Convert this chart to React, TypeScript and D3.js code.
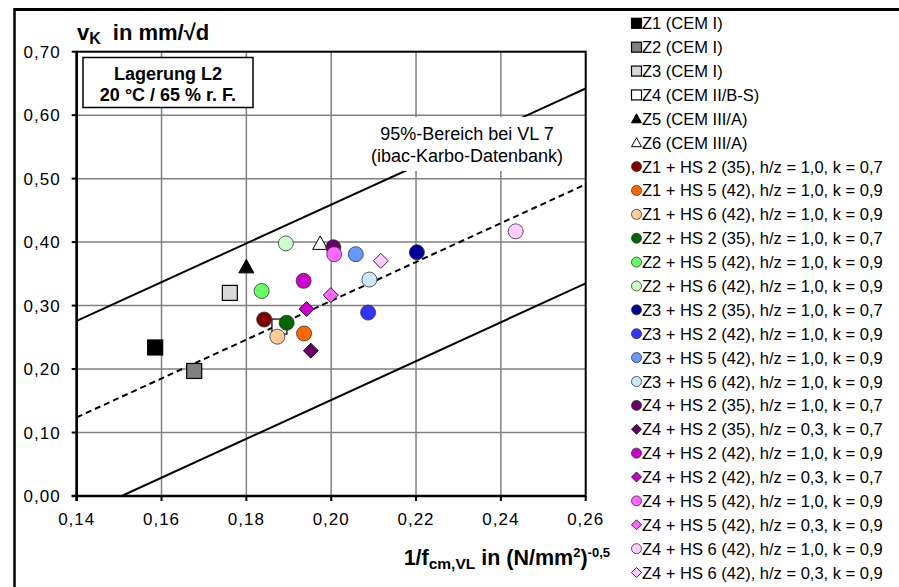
// Karbonatisierungsgeschwindigkeit vs. 1/fcm - scatter with 95% band
import React from 'react';
import * as d3 from 'd3';

// data
const seriesNames = [
    'Z1 (CEM I)', 'Z2 (CEM I)', 'Z3 (CEM I)', 'Z4 (CEM II/B-S)', 'Z5 (CEM III/A)', 'Z6 (CEM III/A)',
    'Z1 + HS 2 (35), h/z = 1,0, k = 0,7', 'Z1 + HS 5 (42), h/z = 1,0, k = 0,9', 'Z1 + HS 6 (42), h/z = 1,0, k = 0,9',
    'Z2 + HS 2 (35), h/z = 1,0, k = 0,7', 'Z2 + HS 5 (42), h/z = 1,0, k = 0,9', 'Z2 + HS 6 (42), h/z = 1,0, k = 0,9',
    'Z3 + HS 2 (35), h/z = 1,0, k = 0,7', 'Z3 + HS 2 (42), h/z = 1,0, k = 0,9', 'Z3 + HS 5 (42), h/z = 1,0, k = 0,9',
    'Z3 + HS 6 (42), h/z = 1,0, k = 0,9', 'Z4 + HS 2 (35), h/z = 1,0, k = 0,7', 'Z4 + HS 2 (35), h/z = 0,3, k = 0,7',
    'Z4 + HS 2 (42), h/z = 1,0, k = 0,9', 'Z4 + HS 2 (42), h/z = 0,3, k = 0,7', 'Z4 + HS 5 (42), h/z = 1,0, k = 0,9',
    'Z4 + HS 5 (42), h/z = 0,3, k = 0,9', 'Z4 + HS 6 (42), h/z = 1,0, k = 0,9', 'Z4 + HS 6 (42), h/z = 0,3, k = 0,9',
];
const seriesX = [
    0.1585, 0.1677, 0.1761, 0.1878, 0.18, 0.1974,
    0.1842, 0.1936, 0.1873, 0.1895, 0.1836, 0.1893,
    0.2202, 0.2087, 0.2058, 0.209, 0.2005, 0.1952,
    0.1935, 0.1942, 0.2007, 0.1999, 0.2435, 0.2117,
];
const seriesY = [
    0.234, 0.197, 0.320, 0.267, 0.361, 0.398,
    0.278, 0.256, 0.251, 0.273, 0.323, 0.398,
    0.384, 0.289, 0.381, 0.341, 0.392, 0.229,
    0.339, 0.2945, 0.381, 0.3165, 0.417, 0.3705,
];
const seriesShape = [
    'square', 'square', 'square', 'square', 'triangle', 'triangle',
    'circle', 'circle', 'circle', 'circle', 'circle', 'circle',
    'circle', 'circle', 'circle', 'circle', 'circle', 'diamond',
    'circle', 'diamond', 'circle', 'diamond', 'circle', 'diamond',
];
const seriesFill = [
    '#000000', '#808080', '#d9d9d9', '#ffffff', '#000000', '#ffffff',
    '#800000', '#ff6600', '#ffcc99', '#006600', '#66ff66', '#ccffcc',
    '#000099', '#3333ff', '#6699ff', '#cce8ff', '#660066', '#660066',
    '#cc00cc', '#cc00cc', '#ff66ff', '#ff66ff', '#ffccff', '#ffccff',
];
const xTicks = [0.14, 0.16, 0.18, 0.20, 0.22, 0.24, 0.26];
const yTicks = [0, 0.1, 0.2, 0.3, 0.4, 0.5, 0.6, 0.7];
// 95%-Bereich (ibac-Karbo-Datenbank)
const upperLine: [number, number][] = [[0.14, 0.276], [0.26, 0.642]];
const meanLine: [number, number][] = [[0.14, 0.124], [0.26, 0.491]];
const lowerLine: [number, number][] = [[0.1506, 0], [0.26, 0.335]];

// layout
const W = 899, H = 587;
const plot = {left: 76.7, right: 585.7, top: 51.7, bottom: 496};
const FONT = 'Arial, "Liberation Sans", sans-serif';

const de = d3.formatLocale({decimal: ',', thousands: '.', grouping: [3], currency: ['', '€']});
const fmt = de.format('.2f');

const xScale = d3.scaleLinear().domain([0.14, 0.26]).range([plot.left, plot.right]);
const yScale = d3.scaleLinear().domain([0, 0.7]).range([plot.bottom, plot.top]);
const lineGen = d3.line<[number, number]>().x((d) => xScale(d[0])).y((d) => yScale(d[1]));

function Marker({shape, fill, cx, cy, size}: {shape: string, fill: string, cx: number, cy: number, size: number}){
    const h = size / 2;
    const strokeCol = shape === 'circle' ? '#333' : '#000';
    if (shape === 'square') {
        return <rect x={cx - h} y={cy - h} width={size} height={size} fill={fill} stroke={strokeCol} strokeWidth={1.2}/>
    }
    if (shape === 'triangle') {
        return <path d={`M${cx},${cy - h}L${cx + h},${cy + h * 0.8}L${cx - h},${cy + h * 0.8}Z`} fill={fill} stroke={strokeCol} strokeWidth={1}/>
    }
    if (shape === 'diamond') {
        return <path d={`M${cx},${cy - h}L${cx + h},${cy}L${cx},${cy + h}L${cx - h},${cy}Z`} fill={fill} stroke={strokeCol} strokeWidth={0.8}/>
    }
    return <circle cx={cx} cy={cy} r={h} fill={fill} stroke={strokeCol} strokeWidth={0.8}/>
}

export default function App(){
    const legendTop = 23.3;
    const legendStep = 23.88;
    return (
        <svg width={W} height={H} style={{position: 'absolute', left: 0, top: 0, background: '#fff'}} fontFamily={FONT}>
            <defs>
                <clipPath id="plotClip">
                    <rect x={plot.left} y={plot.top} width={plot.right - plot.left} height={plot.bottom - plot.top}/>
                </clipPath>
            </defs>
            {/* outer frame */}
            <line x1={14.5} y1={9.5} x2={W} y2={9.5} stroke="#000" strokeWidth={3}/>
            <line x1={14.5} y1={8} x2={14.5} y2={H} stroke="#000" strokeWidth={2.5}/>

            {/* grid */}
            {xTicks.slice(1, -1).map((t) => (
                <line key={'gx' + t} x1={xScale(t)} x2={xScale(t)} y1={plot.top} y2={plot.bottom} stroke="#808080" strokeWidth={1.5}/>
            ))}
            {yTicks.slice(1, -1).map((t) => (
                <line key={'gy' + t} x1={plot.left} x2={plot.right} y1={yScale(t)} y2={yScale(t)} stroke="#808080" strokeWidth={1.5}/>
            ))}

            {/* band lines */}
            <g clipPath="url(#plotClip)" fill="none" stroke="#000" strokeWidth={2}>
                <path d={lineGen(upperLine) || ''}/>
                <path d={lineGen(lowerLine) || ''}/>
                <path d={lineGen(meanLine) || ''} strokeDasharray="6,4"/>
            </g>

            {/* plot frame + axes */}
            <rect x={plot.left} y={plot.top} width={plot.right - plot.left} height={plot.bottom - plot.top} fill="none" stroke="#000" strokeWidth={2}/>
            <line x1={plot.left} x2={plot.left} y1={plot.top} y2={plot.bottom + 5} stroke="#000" strokeWidth={2.5}/>
            <line x1={plot.left - 5} x2={plot.right} y1={plot.bottom} y2={plot.bottom} stroke="#000" strokeWidth={2.5}/>
            {yTicks.map((t) => (
                <g key={'ty' + t}>
                    <line x1={plot.left - 5} x2={plot.left} y1={yScale(t)} y2={yScale(t)} stroke="#000" strokeWidth={2}/>
                    <text x={plot.left - 16} y={yScale(t) + 6} textAnchor="end" fontSize={17} letterSpacing={1} fill="#000">{fmt(t)}</text>
                </g>
            ))}
            {xTicks.map((t) => (
                <g key={'tx' + t}>
                    <line x1={xScale(t)} x2={xScale(t)} y1={plot.bottom} y2={plot.bottom + 5} stroke="#000" strokeWidth={2}/>
                    <text x={xScale(t)} y={plot.bottom + 29} textAnchor="middle" fontSize={17} letterSpacing={1} fill="#000">{fmt(t)}</text>
                </g>
            ))}

            {/* annotation: Lagerung */}
            <rect x={83} y={57.5} width={170} height={50} fill="#fff" stroke="#000" strokeWidth={1.5}/>
            <text x={168} y={80} textAnchor="middle" fontSize={18} fontWeight="bold">Lagerung L2</text>
            <text x={168} y={100.5} textAnchor="middle" fontSize={18} fontWeight="bold">20 °C / 65 % r. F.</text>

            {/* annotation: 95% band */}
            <rect x={372} y={117} width={191} height={54} fill="#fff"/>
            <text x={467} y={140} textAnchor="middle" fontSize={18}>95%-Bereich bei VL 7</text>
            <text x={467} y={162} textAnchor="middle" fontSize={18}>(ibac-Karbo-Datenbank)</text>

            {/* points */}
            {seriesNames.map((name, i) => (
                <Marker key={'p' + name} shape={seriesShape[i]} fill={seriesFill[i]} cx={xScale(seriesX[i])} cy={yScale(seriesY[i])} size={15}/>
            ))}

            {/* axis titles */}
            <text x={77} y={40} fontSize={22} fontWeight="bold">
                v<tspan fontSize={16} dy={4}>K</tspan><tspan dy={-4} dx={12}>in mm/√d</tspan>
            </text>
            <text x={610} y={565} textAnchor="end" fontSize={21.5} fontWeight="bold">
                1/f<tspan fontSize={15.5} dy={4}>cm,VL</tspan><tspan dy={-4}> in (N/mm</tspan><tspan fontSize={13} dy={-8}>2</tspan><tspan dy={8}>)</tspan><tspan fontSize={13} dy={-8}>-0,5</tspan>
            </text>

            {/* legend */}
            {seriesNames.map((name, i) => {
                const cy = legendTop + i * legendStep;
                return (
                    <g key={'l' + name}>
                        <Marker shape={seriesShape[i]} fill={seriesFill[i]} cx={636.5} cy={cy} size={10}/>
                        <text x={642} y={cy + 6} fontSize={16.5} fill="#000">{name}</text>
                    </g>
                )
            })}
        </svg>
    )
}
